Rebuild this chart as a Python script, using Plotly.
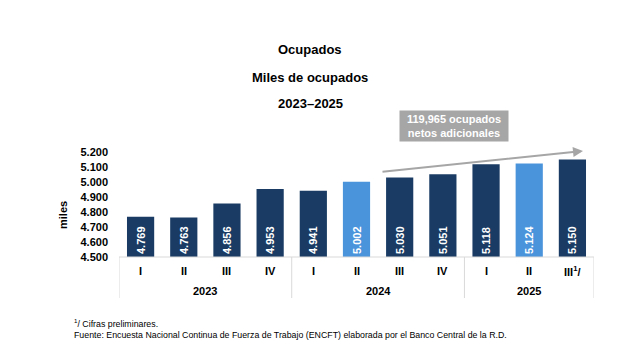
import plotly.graph_objects as go

quarters = ["I", "II", "III", "IV", "I", "II", "III", "IV", "I", "II", "III<sup>1</sup>/"]
years = ["2023", "2024", "2025"]
year_quarter_counts = [4, 4, 3]
values = [4769, 4763, 4856, 4953, 4941, 5002, 5030, 5051, 5118, 5124, 5150]
highlight = [False, False, False, False, False, True, False, False, False, True, False]
y_min, y_max = 4500, 5200

DARK = "#1A3C64"
LIGHT = "#4A94DC"
GRAY = "#A6A6A6"
FONT = "Liberation Sans, Arial, sans-serif"

x = list(range(len(values)))
colors = [LIGHT if h else DARK for h in highlight]

fig = go.Figure()
fig.add_trace(go.Bar(
    x=x, y=[v - y_min for v in values], base=y_min, customdata=values,
    marker=dict(color=colors, line=dict(width=0)),
    width=0.63,
    texttemplate="%{customdata:,d}", textposition="inside", insidetextanchor="start",
    textangle=-90, textfont=dict(color="white", size=11, family=FONT, weight="bold"),
))

# page body has an 8px margin; compensate so reference pixel coords map directly
OFF = 8
W, H = 620 - OFF, 359 - OFF
L, R, T, B = 119 - OFF, 26, 152 - OFF, 102
pw, ph = W - L - R, H - T - B

def px(xp):
    return (xp - OFF - L) / pw

def py(yp):
    return (H - B - (yp - OFF)) / ph

ann = []
for txt, yp in [("Ocupados", 50), ("Miles de ocupados", 77), ("2023–2025", 103)]:
    ann.append(dict(text=f"<b>{txt}</b>", xref="paper", yref="paper", x=px(310), y=py(yp),
                    showarrow=False, font=dict(size=13, color="black", family=FONT),
                    xanchor="center", yanchor="middle"))
for i, q in enumerate(quarters):
    ann.append(dict(text=f"<b>{q}</b>", xref="x", yref="paper", x=i, y=py(271),
                    showarrow=False, font=dict(size=11, color="black", family=FONT),
                    xanchor="center", yanchor="middle"))
shapes = []
start = 0
shapes.append(dict(type="line", xref="x", yref="paper", x0=-0.5, x1=-0.5, y0=0, y1=py(298),
                   line=dict(color="#D9D9D9", width=1)))
for yr, n in zip(years, year_quarter_counts):
    center = start + (n - 1) / 2
    ann.append(dict(text=f"<b>{yr}</b>", xref="x", yref="paper", x=center, y=py(291),
                    showarrow=False, font=dict(size=11, color="black", family=FONT),
                    xanchor="center", yanchor="middle"))
    end = start + n - 0.5
    shapes.append(dict(type="line", xref="x", yref="paper", x0=end, x1=end, y0=0, y1=py(298),
                       line=dict(color="#D9D9D9", width=1)))
    start += n
shapes.append(dict(type="line", xref="paper", yref="paper", x0=0, x1=1, y0=0, y1=0,
                   line=dict(color="#D9D9D9", width=1)))

ann.append(dict(xref="paper", yref="paper", axref="pixel", ayref="pixel",
                x=px(583), y=py(151), ax=381 - 583, ay=172 - 151, text="",
                showarrow=True, arrowhead=2, arrowsize=1, arrowwidth=2, arrowcolor=GRAY))
ann.append(dict(text="<b>119,965 ocupados<br>netos adicionales</b>", xref="paper", yref="paper",
                x=px(454), y=py(126), showarrow=False, bgcolor=GRAY, borderpad=1,
                width=106, height=28,
                font=dict(size=11, color="white", family=FONT), xanchor="center", yanchor="middle"))
ann.append(dict(text="<b>miles</b>", xref="paper", yref="paper", x=px(63), y=py(215),
                showarrow=False, textangle=-90, font=dict(size=11, color="black", family=FONT),
                xanchor="center", yanchor="middle"))
ann.append(dict(text="<sup>1</sup>/ Cifras preliminares.", xref="paper", yref="paper",
                x=px(72), y=py(323), showarrow=False, xanchor="left", yanchor="middle",
                font=dict(size=8.8, color="black", family=FONT)))
ann.append(dict(text="Fuente: Encuesta Nacional Continua de Fuerza de Trabajo (ENCFT) elaborada por el Banco Central de la R.D.",
                xref="paper", yref="paper", x=px(72), y=py(335), showarrow=False,
                xanchor="left", yanchor="middle", font=dict(size=8.8, color="black", family=FONT)))

fig.update_layout(
    width=W, height=H, margin=dict(l=L, r=R, t=T, b=B),
    paper_bgcolor="white", plot_bgcolor="white",
    separators=",.",
    showlegend=False,
    annotations=ann, shapes=shapes,
    font=dict(family=FONT, color="black"),
    xaxis=dict(range=[-0.5, len(values) - 0.5], showticklabels=False, showgrid=False,
               zeroline=False, showline=False, ticks=""),
    yaxis=dict(range=[y_min, y_max], dtick=100, tickformat=",d", showgrid=False, zeroline=False,
               showline=False, ticks="", ticklabelstandoff=10,
               tickfont=dict(size=11, color="black", family=FONT, weight="bold")),
)

fig.write_html("out.html")
